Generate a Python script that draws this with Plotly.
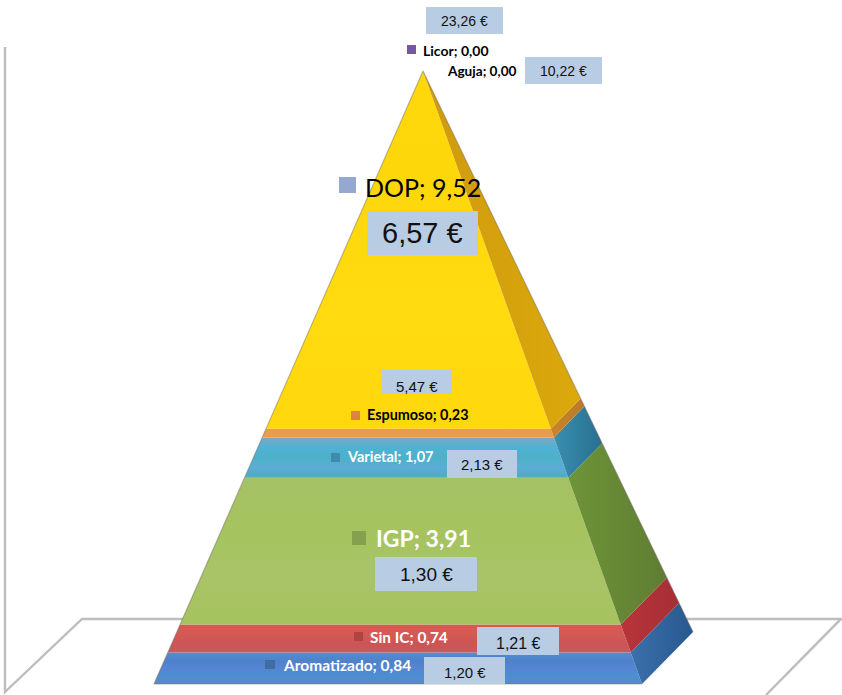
import plotly.graph_objects as go

# ---- data (bottom to top of the pyramid) ----
categories = ["Aromatizado", "Sin IC", "IGP", "Varietal", "Espumoso", "DOP", "Aguja", "Licor"]
values = [0.84, 0.74, 3.91, 1.07, 0.23, 9.52, 0.00, 0.00]
prices = ["1,20 €", "1,21 €", "1,30 €", "2,13 €", "5,47 €", "6,57 €", "10,22 €", "23,26 €"]

# ---- styles ----
FRONT = {
    "Aromatizado": ["#6086c4", "#4a90d0", "#5584d4", "#4f82c8", "#4f8ed8"],
    "Sin IC": ["#c95a55", "#cc5555", "#d45a55", "#d9574f"],
    "IGP": ["#a6c35f", "#a8c468", "#a6c35f", "#a5c167"],
    "Varietal": ["#4fa9c4", "#5aaed6", "#4eb0c8", "#4fb2d4", "#7fa7c0"],
    "Espumoso": ["#ec9a4c", "#ec9a4c"],
    "DOP": ["#ffd80c", "#ffdb10", "#fdd70a", "#ffd80c"],
    "Aguja": ["#888888", "#888888"],
    "Licor": ["#75599a", "#75599a"],
}
SIDE = {
    "Aromatizado": ["#3a70ab", "#28588e"],
    "Sin IC": ["#b9343a", "#a42f35"],
    "IGP": ["#6e9438", "#5f7d33"],
    "Varietal": ["#3a8fb0", "#276f8f"],
    "Espumoso": ["#c9852b", "#b97a2a"],
    "DOP": ["#cf9a0e", "#dba90c"],
    "Aguja": ["#888888", "#888888"],
    "Licor": ["#75599a", "#75599a"],
}
KEY_COLOR = {
    "Aromatizado": "#3e6da3", "Sin IC": "#ae4543", "IGP": "#85a14d", "Varietal": "#3d8cab",
    "Espumoso": "#de8344", "DOP": "#95a8d0", "Licor": "#75599a",
}
# label: centre x, centre y, size, colour, bold ; key: x0, x1, y0, y1
LABEL = {
    "Aromatizado": (347, 665, 15.5, "white", True, (265, 275, 660, 669)),
    "Sin IC": (409, 637, 15.4, "white", True, (354, 363, 632, 641)),
    "IGP": (423, 538, 23, "white", True, (352, 366, 531, 545)),
    "Varietal": (390, 457, 14.5, "white", True, (331, 340, 453, 462)),
    "Espumoso": (418, 415, 14.4, "black", True, (351, 360, 411, 420)),
    "DOP": (423, 187, 25, "black", False, (339, 356, 177, 193)),
    "Aguja": (482.5, 71, 13.6, "black", True, None),
    "Licor": (456, 50, 14, "black", True, (407, 416, 45, 54)),
}
# price box: x0, x1, y0, y1, font size, text centre y
BOX = {
    "Aromatizado": (424, 505, 657, 684, 15, 672),
    "Sin IC": (477, 559, 627, 655, 16, 643),
    "IGP": (375, 477, 557, 591, 19, 574),
    "Varietal": (447, 517, 450, 478, 15, 465),
    "Espumoso": (381, 452, 370, 394, 15, 386),
    "DOP": (367, 478, 211, 255, 29, 233),
    "Aguja": (525, 602, 57, 84, 14, 71),
    "Licor": (426, 503, 7, 34, 14, 21),
}

W, H = 842, 695
BASE_PX, APEX_PX = 684, 71
APEX_X, LEFT_X, RIGHT_X, BACK_X = 423, 154, 642, 693
BACK_PX = 632

total = sum(values)
unit = (BASE_PX - APEX_PX) / total          # pixels per value unit
y_range = [-(H - BASE_PX) / unit, total + APEX_PX / unit]


def edge(x_base, level):
    return x_base + (APEX_X - x_base) * level / total


def back_y(level):
    """The rear corner sits higher on screen, expressed in the value scale."""
    base_val = (BASE_PX - BACK_PX) / unit
    return base_val + (total - base_val) * level / total


def gradient(kind, colors):
    n = len(colors) - 1
    return dict(type=kind, colorscale=[[i / n, c] for i, c in enumerate(colors)])


fig = go.Figure()
level = 0.0
for name, val in zip(categories, values):
    top = level + val
    if val > 0:
        # front face
        fig.add_trace(go.Scatter(
            x=[edge(LEFT_X, level), edge(RIGHT_X, level), edge(RIGHT_X, top), edge(LEFT_X, top), edge(LEFT_X, level)],
            y=[level, level, top, top, level],
            mode="lines", line=dict(width=0), fill="toself",
            fillgradient=gradient("vertical", FRONT[name]),
            hoverinfo="skip", showlegend=False, name=name,
        ))
        # right side face
        fig.add_trace(go.Scatter(
            x=[edge(RIGHT_X, level), edge(BACK_X, level), edge(BACK_X, top), edge(RIGHT_X, top), edge(RIGHT_X, level)],
            y=[level, back_y(level), back_y(top), top, level],
            mode="lines", line=dict(width=0), fill="toself",
            fillgradient=gradient("horizontal", SIDE[name]),
            hoverinfo="skip", showlegend=False, name=name + " side",
        ))
    level = top

# soft outline of the solid
fig.add_trace(go.Scatter(
    x=[BACK_X, APEX_X, LEFT_X, RIGHT_X], y=[back_y(0), total, 0, 0],
    mode="lines", line=dict(color="rgba(110,105,95,0.45)", width=1.2),
    hoverinfo="skip", showlegend=False, name="outline",
))


def px(x, y):
    return x / W, 1 - y / H


shapes = []
# walls and floor, behind the pyramid
pts = [(5, 47), (5, 692), (82, 619), (841, 619), (766, 695)]
path = " ".join(("M" if i == 0 else "L") + f"{px(*p)[0]:.4f},{px(*p)[1]:.4f}" for i, p in enumerate(pts))
shapes.append(dict(type="path", xref="paper", yref="paper", path=path,
                   line=dict(color="#bdbdbd", width=2.4), layer="below"))

annotations = []
for name, val, price in zip(categories, values, prices):
    cx, cy, size, color, bold, key = LABEL[name]
    txt = f"{name}; {val:.2f}".replace(".", ",")
    ax, ay = px(cx, cy)
    annotations.append(dict(
        xref="paper", yref="paper", x=ax, y=ay, xanchor="center", yanchor="middle", showarrow=False,
        text=f"<b>{txt}</b>" if bold else txt,
        font=dict(family="Lato, 'Open Sans', sans-serif", size=size, color=color),
    ))
    if key:
        x0, x1, y0, y1 = key
        shapes.append(dict(type="rect", xref="paper", yref="paper", layer="above",
                           x0=px(x0, 0)[0], x1=px(x1, 0)[0], y0=px(0, y1)[1], y1=px(0, y0)[1],
                           fillcolor=KEY_COLOR[name], line=dict(width=0)))
    x0, x1, y0, y1, fs, ty = BOX[name]
    shapes.append(dict(type="rect", xref="paper", yref="paper", layer="above",
                       x0=px(x0, 0)[0], x1=px(x1, 0)[0], y0=px(0, y1)[1], y1=px(0, y0)[1],
                       fillcolor="#b8cce4", line=dict(width=0)))
    bx, by = px((x0 + x1) / 2, ty)
    annotations.append(dict(
        xref="paper", yref="paper", x=bx, y=by, xanchor="center", yanchor="middle", showarrow=False,
        text=price,
        font=dict(family="'Liberation Sans', Arial, sans-serif", size=fs, color="#111111"),
    ))

fig.update_layout(
    width=W, height=H, margin=dict(l=0, r=0, t=0, b=0),
    paper_bgcolor="white", plot_bgcolor="white", showlegend=False,
    xaxis=dict(range=[0, W], visible=False, fixedrange=True),
    yaxis=dict(range=y_range, visible=False, fixedrange=True),
    shapes=shapes, annotations=annotations,
)
fig.write_html("out.html", config={"displayModeBar": False},
               post_script="document.body.style.margin='0';document.documentElement.style.overflow='hidden';")
